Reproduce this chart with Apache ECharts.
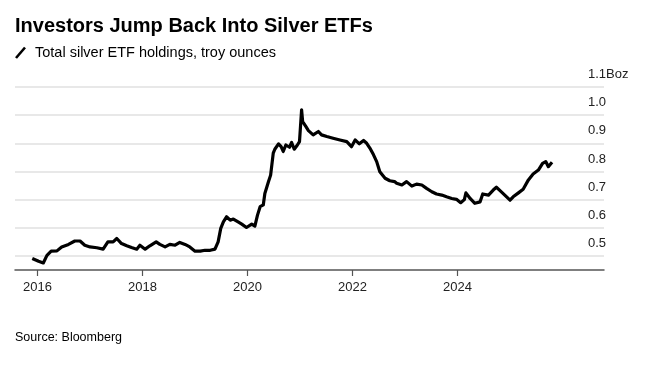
<!DOCTYPE html>
<html>
<head>
<meta charset="utf-8">
<script src="https://cdn.jsdelivr.net/npm/echarts@6/dist/echarts.min.js"></script>
<style>
html,body{margin:0;padding:0;background:#fff;}
#chart{width:645px;height:366px;}
</style>
</head>
<body>
<div id="chart"></div>
<script>
// Decimal years (x) of points
var years = [2015.90,2016.02,2016.11,2016.18,2016.26,2016.37,2016.46,2016.59,2016.71,2016.81,2016.90,
2017.00,2017.13,2017.25,2017.34,2017.44,2017.51,2017.60,2017.70,2017.79,2017.89,2017.95,
2018.05,2018.14,2018.26,2018.33,2018.43,2018.52,2018.62,2018.71,2018.81,2018.90,
2019.00,2019.10,2019.19,2019.29,2019.38,2019.44,2019.49,2019.54,2019.60,2019.67,2019.73,2019.82,2019.89,2019.98,
2020.08,2020.14,2020.19,2020.24,2020.30,2020.33,2020.40,2020.44,2020.49,2020.52,2020.59,2020.64,2020.68,2020.73,2020.80,2020.84,2020.89,2020.95,2020.99,
2021.03,2021.05,2021.11,2021.16,2021.25,2021.35,2021.41,2021.51,2021.63,2021.76,2021.89,2021.98,
2022.05,2022.13,2022.21,2022.27,2022.33,2022.40,2022.46,2022.52,2022.62,2022.71,2022.80,2022.84,2022.94,
2023.03,2023.13,2023.22,2023.32,2023.41,2023.51,2023.60,2023.70,2023.79,2023.89,2023.98,
2024.06,2024.13,2024.16,2024.24,2024.33,2024.43,2024.48,2024.59,2024.68,2024.74,2024.81,2024.90,
2025.00,2025.06,2025.16,2025.25,2025.35,2025.44,2025.54,2025.62,2025.68,2025.73,2025.80];
// Total silver ETF holdings, billion troy ounces
var holdings = [0.491,0.481,0.475,0.502,0.517,0.518,0.532,0.541,0.553,0.553,0.538,
0.532,0.529,0.524,0.550,0.550,0.562,0.544,0.536,0.530,0.524,0.538,
0.524,0.536,0.550,0.541,0.532,0.541,0.538,0.548,0.541,0.532,
0.517,0.517,0.520,0.520,0.524,0.550,0.598,0.621,0.639,0.627,0.631,0.621,0.613,0.601,
0.613,0.606,0.645,0.675,0.681,0.722,0.764,0.787,0.865,0.879,0.898,0.888,0.871,0.894,0.886,0.903,0.879,0.894,0.906,
1.019,0.977,0.960,0.945,0.930,0.942,0.930,0.924,0.918,0.912,0.906,0.888,
0.912,0.898,0.910,0.900,0.883,0.859,0.835,0.799,0.776,0.767,0.764,0.758,0.752,
0.764,0.748,0.755,0.752,0.740,0.728,0.720,0.716,0.710,0.704,0.701,
0.689,0.700,0.724,0.704,0.687,0.692,0.720,0.716,0.734,0.744,0.732,0.716,
0.698,0.710,0.724,0.737,0.770,0.791,0.805,0.829,0.835,0.817,0.833];
var xTicks = [2016, 2018, 2020, 2022, 2024];
var yTicks = [0.5, 0.6, 0.7, 0.8, 0.9, 1.0, 1.1];
var yUnit = 'Boz';

var titleText = 'Investors Jump Back Into Silver ETFs';
var subtitleText = 'Total silver ETF holdings, troy ounces';
var sourceText = 'Source: Bloomberg';

var pts = years.map(function (y, i) { return [y, holdings[i]]; });
var FONT = '"Liberation Sans", Arial, Helvetica, sans-serif';

var chart = echarts.init(document.getElementById('chart'), null, {renderer: 'canvas'});
chart.setOption({
  animation: false,
  backgroundColor: '#fff',
  grid: {left: 15, right: 41, top: 87, bottom: 96, containLabel: false},
  xAxis: {
    type: 'value',
    min: 2015.571,
    max: 2026.79,
    axisLine: {show: true, lineStyle: {color: '#555', width: 1.5}},
    axisTick: {show: true, customValues: xTicks, length: 6, lineStyle: {color: '#555', width: 1.2}},
    axisLabel: {show: true, customValues: xTicks, margin: 11, color: '#222', fontSize: 13, fontFamily: FONT,
      formatter: function (v) { return String(Math.round(v)); }},
    splitLine: {show: false}
  },
  yAxis: {
    type: 'value',
    position: 'right',
    min: 0.45,
    max: 1.1,
    interval: 0.05,
    axisLine: {show: false},
    axisTick: {show: false},
    axisLabel: {
      show: true, inside: false, margin: -16, align: 'left', verticalAlign: 'bottom',
      padding: [0, 0, 6, 0], color: '#222', fontSize: 13, fontFamily: FONT,
      formatter: function (v) {
        var r = Math.round(v * 100) / 100;
        for (var i = 0; i < yTicks.length; i++) {
          if (Math.abs(yTicks[i] - r) < 1e-6) {
            return r.toFixed(1) + (i === yTicks.length - 1 ? yUnit : '');
          }
        }
        return '';
      }
    },
    splitLine: {show: true, lineStyle: {color: ['rgba(0,0,0,0)', '#e0e0e0'], width: 1.5}}
  },
  series: [{
    type: 'line',
    data: pts,
    showSymbol: false,
    symbol: 'none',
    lineStyle: {color: '#000', width: 3.2, join: 'round'},
    z: 5
  }],
  graphic: [
    {type: 'text', left: 15, top: 16, style: {text: titleText, font: 'bold 20px ' + FONT, fill: '#000'}},
    {type: 'line', shape: {x1: 16, y1: 58, x2: 25, y2: 47.5}, style: {stroke: '#000', lineWidth: 2.6, lineCap: 'butt'}},
    {type: 'text', left: 35, top: 45, style: {text: subtitleText, font: '14.5px ' + FONT, fill: '#000'}},
    {type: 'text', left: 15, top: 331, style: {text: sourceText, font: '12.5px ' + FONT, fill: '#000'}}
  ]
});
</script>
</body>
</html>
